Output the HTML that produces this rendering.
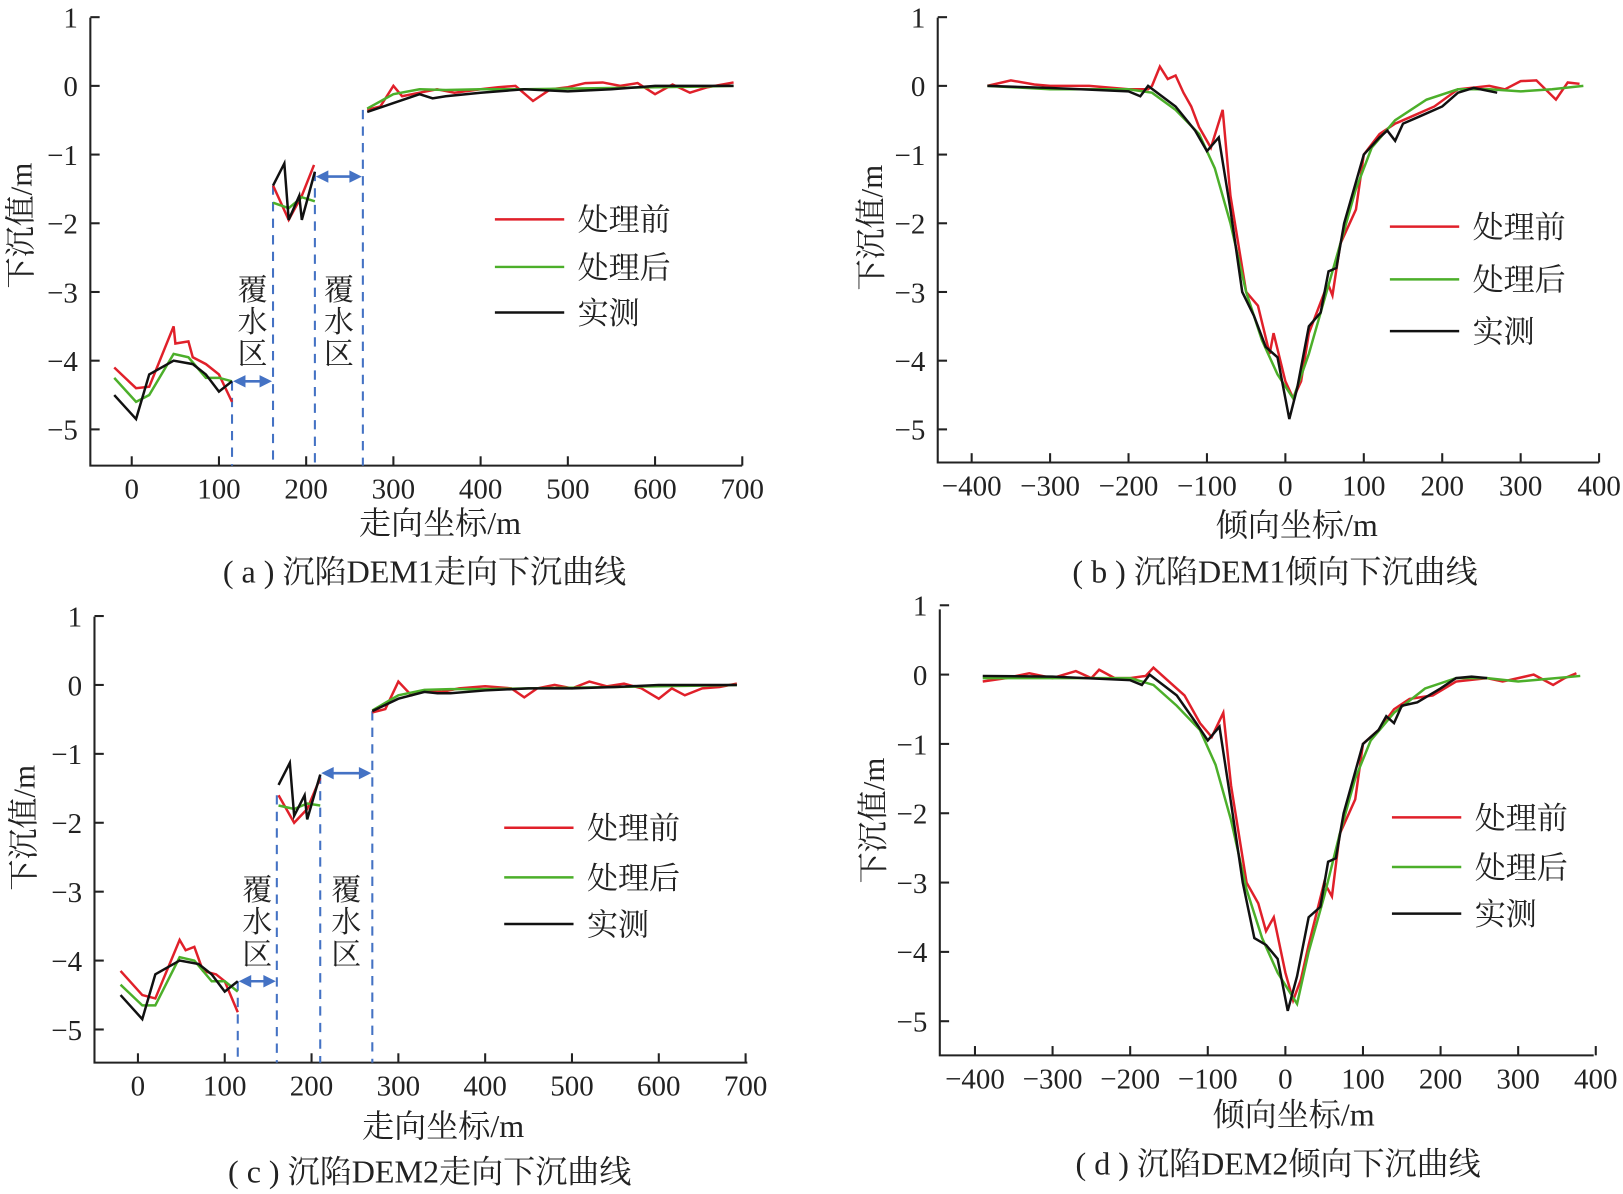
<!DOCTYPE html>
<html><head><meta charset="utf-8"><style>
html,body{margin:0;padding:0;background:#fff}
svg{display:block}
text{font-family:"Liberation Serif","Noto Serif CJK SC",serif;fill:#222}
</style></head><body>
<svg id="fig" width="1623" height="1194" viewBox="0 0 1568 1154" xmlns="http://www.w3.org/2000/svg"></svg>
<script>
// ---- Panel A (strike direction, DEM1) ----
const aRedX=[-20,5,20,48,50,65,70,85,100,115, null, 162,180,195,209, null, 270,285,300,310,330,350,370,400,420,440,460,480,500,520,540,560,580,600,620,640,660,690];
const aRedY=[-4.1,-4.4,-4.38,-3.5,-3.75,-3.72,-3.95,-4.05,-4.2,-4.6, null, -1.45,-1.95,-1.6,-1.15, null, -0.35,-0.3,0,-0.15,-0.1,-0.05,-0.1,-0.05,-0.02,0,-0.22,-0.05,-0.02,0.04,0.05,0.0,0.04,-0.12,0.02,-0.1,-0.02,0.05];
const aGreenX=[-20,5,20,48,65,85,100,115, null, 162,180,195,210, null, 270,300,330,360,400,450,500,550,600,650,690];
const aGreenY=[-4.25,-4.6,-4.5,-3.9,-3.95,-4.25,-4.25,-4.3, null, -1.7,-1.78,-1.62,-1.68, null, -0.33,-0.12,-0.05,-0.06,-0.05,-0.05,-0.04,-0.03,-0.02,-0.01,0];
const aBlackX=[-20,5,20,48,70,85,100,115, null, 162,175,180,192,195,210, null, 270,300,330,345,360,400,450,500,550,600,650,690];
const aBlackY=[-4.5,-4.85,-4.2,-4.0,-4.05,-4.2,-4.45,-4.3, null, -1.45,-1.13,-1.95,-1.6,-1.95,-1.25, null, -0.38,-0.25,-0.12,-0.18,-0.15,-0.1,-0.05,-0.08,-0.05,0,0,0];
const aZones=[115,162,210,265];
// ---- Panel C (strike direction, DEM2) ----
const cRedX=[-20,5,20,48,55,65,75,90,100,115, null, 162,180,195,210, null, 270,285,300,315,330,350,370,400,430,445,460,480,500,520,540,560,580,600,615,630,650,670,690];
const cRedY=[-4.15,-4.5,-4.55,-3.7,-3.85,-3.8,-4.15,-4.2,-4.3,-4.75, null, -1.6,-2.0,-1.8,-1.35, null, -0.4,-0.35,0.05,-0.15,-0.08,-0.1,-0.05,-0.02,-0.05,-0.18,-0.05,0,-0.05,0.05,-0.02,0.02,-0.05,-0.2,-0.05,-0.15,-0.05,-0.03,0.02];
const cGreenX=[-20,5,20,48,65,85,100,115, null, 162,180,195,210, null, 270,300,330,360,400,450,500,550,600,650,690];
const cGreenY=[-4.35,-4.65,-4.65,-3.95,-4.0,-4.3,-4.3,-4.45, null, -1.75,-1.8,-1.72,-1.75, null, -0.37,-0.15,-0.07,-0.06,-0.06,-0.05,-0.04,-0.03,-0.02,-0.01,0];
const cBlackX=[-20,5,20,48,70,85,100,115, null, 162,175,180,192,195,210, null, 270,300,330,345,360,400,450,500,550,600,650,690];
const cBlackY=[-4.5,-4.85,-4.2,-4.0,-4.05,-4.2,-4.45,-4.3, null, -1.45,-1.13,-1.9,-1.6,-1.95,-1.3, null, -0.38,-0.2,-0.1,-0.12,-0.12,-0.08,-0.05,-0.05,-0.03,0,0,0];
const cZones=[115,160,210,270];
// ---- Panel B (dip direction, DEM1) ----
const bRedX=[-380,-350,-320,-300,-250,-200,-175,-170,-160,-150,-140,-130,-120,-110,-95,-80,-70,-50,-35,-20,-15,0,10,20,30,50,55,60,70,90,100,120,140,160,190,220,260,280,300,320,345,360,375];
const bRedY=[0,0.08,0.02,0,0,-0.05,-0.05,0,0.28,0.1,0.15,-0.1,-0.3,-0.6,-0.9,-0.35,-1.6,-3.0,-3.2,-3.9,-3.6,-4.3,-4.55,-4.3,-3.6,-3.0,-2.9,-3.05,-2.3,-1.8,-1.0,-0.7,-0.55,-0.45,-0.3,-0.05,0,-0.05,0.07,0.08,-0.2,0.05,0.03];
const bGreenX=[-380,-300,-200,-170,-140,-110,-90,-70,-50,-30,-10,10,30,50,70,90,110,140,180,220,260,300,340,380];
const bGreenY=[0,-0.05,-0.05,-0.1,-0.35,-0.7,-1.2,-2.0,-3.0,-3.7,-4.2,-4.55,-3.9,-3.1,-2.3,-1.5,-0.9,-0.5,-0.2,-0.05,-0.05,-0.08,-0.05,0];
const bBlackX=[-380,-300,-200,-185,-175,-140,-115,-100,-85,-70,-55,-40,-25,-10,5,15,30,45,55,65,75,100,120,130,140,150,170,200,220,240,270];
const bBlackY=[0,-0.03,-0.08,-0.15,0,-0.3,-0.65,-0.95,-0.75,-1.8,-3.0,-3.35,-3.8,-3.95,-4.85,-4.4,-3.5,-3.3,-2.7,-2.65,-2.0,-1.0,-0.75,-0.65,-0.8,-0.55,-0.45,-0.3,-0.1,-0.03,-0.1];
// ---- Panel D (dip direction, DEM2) ----
const dRedX=[-390,-360,-330,-300,-270,-250,-240,-220,-200,-180,-170,-150,-130,-110,-95,-80,-70,-50,-35,-25,-15,0,10,20,30,50,55,60,70,90,100,120,140,160,190,220,260,280,300,320,345,360,375];
const dRedY=[-0.1,-0.05,0.02,-0.05,0.05,-0.05,0.07,-0.05,-0.05,-0.02,0.1,-0.1,-0.3,-0.7,-0.9,-0.55,-1.6,-3.0,-3.3,-3.7,-3.5,-4.3,-4.7,-4.4,-3.9,-3.0,-3.1,-3.2,-2.3,-1.8,-1.0,-0.8,-0.5,-0.35,-0.3,-0.1,-0.05,-0.1,-0.05,0,-0.15,-0.05,0.02];
const dGreenX=[-390,-300,-200,-170,-140,-110,-90,-70,-50,-30,-10,15,30,50,70,90,110,140,180,220,260,300,340,380];
const dGreenY=[-0.05,-0.05,-0.05,-0.15,-0.45,-0.8,-1.3,-2.1,-3.1,-3.8,-4.3,-4.75,-4.0,-3.2,-2.3,-1.5,-0.95,-0.55,-0.2,-0.05,-0.05,-0.1,-0.06,-0.02];
const dBlackX=[-390,-300,-200,-185,-175,-140,-115,-100,-85,-70,-55,-40,-25,-10,3,15,30,45,55,65,75,100,120,130,140,150,170,200,220,240,260];
const dBlackY=[-0.02,-0.03,-0.08,-0.15,0,-0.3,-0.7,-0.95,-0.75,-1.85,-3.0,-3.8,-3.9,-4.1,-4.85,-4.35,-3.5,-3.35,-2.7,-2.65,-2.0,-1.0,-0.8,-0.6,-0.7,-0.45,-0.4,-0.2,-0.05,-0.03,-0.05];
// ---- Tick labels ----
const yTicks=[1,0,-1,-2,-3,-4,-5];
const strikeTicks=[0,100,200,300,400,500,600,700];
const dipTicks=[-400,-300,-200,-100,0,100,200,300,400];
const legendLabels=["处理前","处理后","实测"];

const NS="http://www.w3.org/2000/svg";
const svg=document.getElementById('fig');
function el(tag,attrs,parent){const e=document.createElementNS(NS,tag);for(const k in attrs)e.setAttribute(k,attrs[k]);(parent||svg).appendChild(e);return e;}
function txt(s,x,y,size,parent,anchor){const t=el('text',{x:x,y:y,'font-size':size,'text-anchor':anchor||'middle'},parent);t.textContent=s;return t;}

function panel(p){
  const g=el('g',{});
  
  
  const sx=v=>p.x0+(v-p.xv0)*p.xs;
  const sy=v=>p.y0-v*p.ys;
  const ax=el('path',{d:`M${p.ax} ${p.top} V${p.bottom} H${p.right}`,stroke:'#222','stroke-width':2,fill:'none'},g);
  
  
  yTicks.forEach(v=>{
    const y=sy(v);
    el('line',{x1:p.ax,x2:p.ax+9,y1:y,y2:y,stroke:'#222','stroke-width':2},g);
    const t=txt(v<0?'\u2212'+(-v):String(v),p.ax-12,y+10,28,g,'end');
    
    
  });
  p.xt.forEach(v=>{
    const x=sx(v);
    el('line',{x1:x,x2:x,y1:p.bottom,y2:p.bottom-9,stroke:'#222','stroke-width':2},g);
    const t=txt(v<0?'\u2212'+(-v):String(v),x,p.bottom+32,28,g);
    
    
  });
  if(p.zones){
    const zs=p.zones, zy=p.zy;
    zs.forEach((z,i)=>{
      const l=el('line',{x1:sx(z),x2:sx(z),y1:sy(zy[i]),y2:p.bottom,stroke:'#4472c4','stroke-width':2,'stroke-dasharray':'9,7'},g);
      
      
    });
    [[0,1,p.arrowY[0]],[2,3,p.arrowY[1]]].forEach(([a,b,yv])=>{
      const x1=sx(zs[a]),x2=sx(zs[b]),y=sy(yv);
      const ar=el('g',{},g);
      
      
      el('line',{x1:x1+8,x2:x2-8,y1:y,y2:y,stroke:'#4472c4','stroke-width':2.5},ar);
      el('polygon',{points:`${x1+1},${y} ${x1+13},${y-6} ${x1+13},${y+6}`,fill:'#4472c4'},ar);
      el('polygon',{points:`${x2-1},${y} ${x2-13},${y-6} ${x2-13},${y+6}`,fill:'#4472c4'},ar);
      const cx=(x1+x2)/2;
      const lab=el('g',{},g);
      
      
      ['覆','水','区'].forEach((c,i)=>txt(c,cx,p.zoneTextY+i*31,29,lab));
    });
  }
  const series=[[p.rx,p.ry,'#e0202a'],[p.gx,p.gy,'#4caf2a'],[p.bx,p.by,'#111']];
  const names=['series-before','series-after','series-measured'];
  series.forEach(([xs,ys,c],si)=>{
    let d='',start=true;
    xs.forEach((v,i)=>{ if(v===null){start=true;return;} d+=(start?'M':'L')+sx(v).toFixed(1)+' '+sy(ys[i]).toFixed(1)+' '; start=false;});
    const path=el('path',{d:d,stroke:c,'stroke-width':2.4,fill:'none','stroke-linejoin':'miter'},g);
    
    
  });
  const lg=el('g',{},g);
  
  
  ['#e0202a','#4caf2a','#111'].forEach((c,i)=>{
    const y=p.legY[i];
    const e=el('g',{},lg);
    
    
    el('line',{x1:p.legX,x2:p.legX+67,y1:y,y2:y,stroke:c,'stroke-width':2.4},e);
    txt(legendLabels[i],p.legX+80,y+11,30,e,'start');
  });
  const xt=txt(p.xtitle,p.xtX,p.xtY,31,g);
  
  
  const yt=txt('下沉值/m',0,0,30,g);
  yt.setAttribute('transform',`translate(${p.ytX},${p.ytY}) rotate(-90)`);
  
  
  const cap=txt(p.caption,p.capX,p.capY,31,g);
  
  
}

panel({name:'panel-a',ax:87,top:17,bottom:450,right:717,x0:127,xv0:0,xs:0.843,y0:83,ys:66.4,xt:strikeTicks,
  rx:aRedX,ry:aRedY,gx:aGreenX,gy:aGreenY,bx:aBlackX,by:aBlackY,zones:aZones,zy:[-4.3,-1.45,-1.25,-0.35],arrowY:[-4.3,-1.32],zoneTextY:290,
  legX:478,legY:[212,258,302],xtitle:'走向坐标/m',xtX:425,xtY:516,ytX:30,ytY:218,caption:'( a ) 沉陷DEM1走向下沉曲线',capX:410,capY:563});
panel({name:'panel-b',ax:906,top:17,bottom:447,right:1545,x0:1242,xv0:0,xs:0.758,y0:83,ys:66.4,xt:dipTicks,
  rx:bRedX,ry:bRedY,gx:bGreenX,gy:bGreenY,bx:bBlackX,by:bBlackY,
  legX:1343,legY:[219,270,320],xtitle:'倾向坐标/m',xtX:1253,xtY:518,ytX:852,ytY:220,caption:'( b ) 沉陷DEM1倾向下沉曲线',capX:1232,capY:563});
panel({name:'panel-c',ax:91,top:596,bottom:1027,right:722,x0:133,xv0:0,xs:0.839,y0:662,ys:66.6,xt:strikeTicks,
  rx:cRedX,ry:cRedY,gx:cGreenX,gy:cGreenY,bx:cBlackX,by:cBlackY,zones:cZones,zy:[-4.3,-1.6,-1.3,-0.38],arrowY:[-4.3,-1.28],zoneTextY:870,
  legX:487,legY:[800,848,893],xtitle:'走向坐标/m',xtX:428,xtY:1099,ytX:33,ytY:800,caption:'( c ) 沉陷DEM2走向下沉曲线',capX:415,capY:1143});
panel({name:'panel-d',ax:908,top:589,bottom:1020,right:1540,x0:1242,xv0:0,xs:0.75,y0:652,ys:67,xt:dipTicks,
  rx:dRedX,ry:dRedY,gx:dGreenX,gy:dGreenY,bx:dBlackX,by:dBlackY,
  legX:1345,legY:[790,838,883],xtitle:'倾向坐标/m',xtX:1250,xtY:1088,ytX:854,ytY:793,caption:'( d ) 沉陷DEM2倾向下沉曲线',capX:1235,capY:1135});
</script>
</body></html>
